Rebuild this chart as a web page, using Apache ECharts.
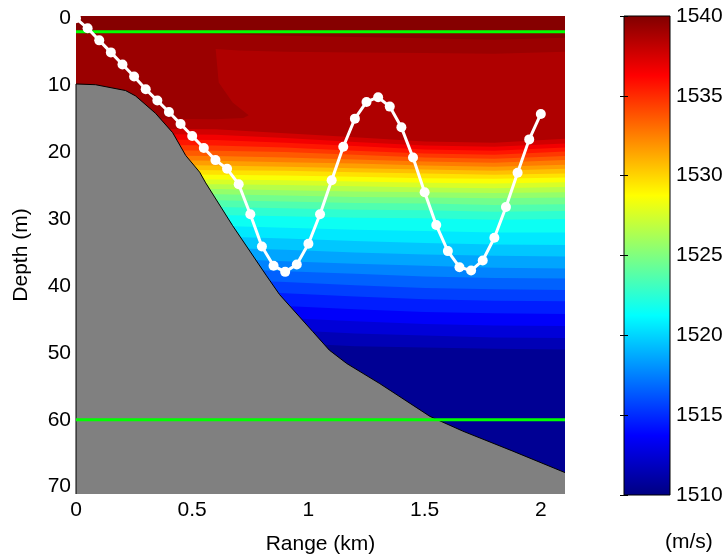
<!DOCTYPE html>
<html><head><meta charset="utf-8">
<script src="https://cdn.jsdelivr.net/npm/echarts@6/dist/echarts.min.js"></script>
<style>html,body{margin:0;padding:0;background:#fff}#c{width:727px;height:560px}</style>
</head><body><div id="c"></div>
<script>
// ---- axis extents & ticks ----
const X_MIN = 0, X_MAX = 2.104, Y_MIN = -0.34, Y_MAX = 71.1;
const xTicks = [0, 0.5, 1, 1.5, 2];
const yTicks = [0, 10, 20, 30, 40, 50, 60, 70];
const cbTicks = [1510, 1515, 1520, 1525, 1530, 1535, 1540];
const cbRange = [1510, 1540];
const greenLineDepths = [2, 60];

// ---- seabed ----
const bathyRange = [0, 0.084, 0.213, 0.256, 0.342, 0.416, 0.472, 0.532, 0.558, 0.674, 0.82, 0.876, 1.018, 1.09, 1.165, 1.307, 1.523, 1.664, 1.88, 2.104];
const bathyDepth = [9.82, 9.93, 10.8, 11.6, 14.2, 17.1, 20.5, 23.0, 24.6, 31.0, 38.5, 41.3, 46.8, 49.6, 51.6, 54.6, 59.5, 61.7, 64.7, 67.9];

// ---- glider path ----
const gliderRange = [0, 0.05, 0.1, 0.15, 0.2, 0.25, 0.3, 0.35, 0.4, 0.45, 0.5, 0.55, 0.6, 0.65, 0.7, 0.75, 0.8, 0.85, 0.9, 0.95, 1.0, 1.05, 1.1, 1.15, 1.2, 1.25, 1.3, 1.35, 1.4, 1.45, 1.5, 1.55, 1.6, 1.65, 1.7, 1.75, 1.8, 1.85, 1.9, 1.95, 2.0];
const gliderDepth = [0, 1.5, 3.3, 5.1, 6.9, 8.7, 10.6, 12.3, 14.0, 15.8, 17.6, 19.4, 21.2, 22.5, 24.8, 29.3, 34.1, 37.0, 37.9, 36.8, 33.7, 29.3, 24.2, 19.2, 15.0, 12.5, 11.8, 13.2, 16.3, 20.8, 26.0, 30.9, 34.8, 37.2, 37.7, 36.2, 32.8, 28.2, 23.1, 18.1, 14.3];

// ---- sound speed contour lines (m/s) : depth of each isoline at isoRanges ----
const topValue = 1539.8;
const iso1539Range = [0, 0.4, 0.6, 0.72, 0.743, 0.674, 0.614, 0.601, 0.7, 0.9, 1.2, 1.5, 1.8, 2.104];
const iso1539Depth = [15.0, 15.0, 15.1, 14.9, 14.5, 12.6, 9.6, 4.6, 4.8, 5.0, 5.1, 5.2, 5.3, 5.0];
const isoRanges = [0, 0.3, 0.6, 0.9, 1.2, 1.5, 1.8, 2.104];
const isoLevels = [1539.6, 1539, 1538, 1537, 1536, 1535, 1534, 1533, 1532, 1531, 1530, 1529, 1528, 1527, 1526, 1525, 1524, 1523, 1522, 1521, 1520, 1519, 1518, 1517, 1516, 1515, 1514, 1513, 1512, 1511];
const isoDepths = [
  [2.3, 2.3, 2.4, 2.6, 2.8, 3.0, 3.2, 2.9],
  null,
  [16.5, 16.5, 16.6, 17.2, 17.8, 18.4, 18.6, 18.0],
  [17.3, 17.3, 17.4, 17.9, 18.5, 19.0, 19.2, 18.7],
  [18.1, 18.1, 18.2, 18.6, 19.1, 19.6, 19.8, 19.3],
  [18.9, 18.9, 19.0, 19.3, 19.8, 20.2, 20.4, 19.9],
  [19.7, 19.7, 19.8, 20.0, 20.4, 20.8, 21.0, 20.6],
  [20.5, 20.5, 20.6, 20.8, 21.1, 21.4, 21.6, 21.2],
  [21.2, 21.2, 21.3, 21.5, 21.7, 22.0, 22.2, 21.9],
  [21.9, 21.9, 22.0, 22.2, 22.4, 22.6, 22.8, 22.5],
  [22.6, 22.6, 22.7, 22.8, 23.0, 23.2, 23.4, 23.2],
  [23.3, 23.3, 23.4, 23.5, 23.7, 23.9, 24.0, 23.8],
  [24.1, 24.1, 24.1, 24.2, 24.4, 24.6, 24.7, 24.5],
  [24.8, 24.8, 24.8, 24.9, 25.1, 25.3, 25.4, 25.2],
  [25.5, 25.5, 25.5, 25.7, 25.9, 26.0, 26.1, 26.0],
  [26.3, 26.3, 26.3, 26.5, 26.7, 26.8, 26.9, 26.8],
  [27.2, 27.2, 27.2, 27.4, 27.6, 27.7, 27.9, 27.8],
  [28.2, 28.2, 28.2, 28.4, 28.6, 28.7, 28.9, 28.8],
  [29.4, 29.4, 29.4, 29.6, 29.8, 29.9, 30.1, 30.0],
  [31.0, 31.0, 31.0, 31.3, 31.6, 31.8, 32.0, 32.0],
  [32.6, 32.6, 32.6, 32.9, 33.3, 33.6, 33.8, 33.9],
  [34.3, 34.3, 34.3, 34.6, 35.0, 35.3, 35.5, 35.6],
  [35.9, 35.9, 35.9, 36.3, 36.7, 37.0, 37.3, 37.4],
  [37.4, 37.4, 37.4, 37.8, 38.2, 38.6, 38.8, 38.9],
  [39.0, 39.0, 39.0, 39.4, 39.9, 40.3, 40.5, 40.6],
  [40.7, 40.7, 40.7, 41.1, 41.6, 42.0, 42.2, 42.3],
  [42.6, 42.6, 42.6, 43.0, 43.5, 43.9, 44.1, 44.2],
  [44.4, 44.4, 44.4, 44.8, 45.3, 45.7, 45.9, 46.0],
  [46.2, 46.2, 46.2, 46.6, 47.1, 47.4, 47.7, 47.8],
  [48.0, 48.0, 48.0, 48.5, 49.0, 49.2, 49.4, 49.5]
];

// ---- jet colormap (style) ----
function jet(v) {
  const t = Math.max(0, Math.min(1, (v - cbRange[0]) / (cbRange[1] - cbRange[0])));
  const c = x => Math.round(255 * Math.max(0, Math.min(1, x)));
  return 'rgb(' + c(1.5 - Math.abs(4 * t - 3)) + ',' + c(1.5 - Math.abs(4 * t - 2)) + ',' + c(1.5 - Math.abs(4 * t - 1)) + ')';
}
const BAND_OFFSET = 0.4;

const isoPaths = isoLevels.map((lv, i) => {
  if (isoDepths[i] === null) return iso1539Range.map((r, k) => [r, iso1539Depth[k]]);
  return isoRanges.map((r, k) => [r, isoDepths[i][k]]);
});

const FONT = 'Liberation Sans, Arial, Helvetica, sans-serif';
const FS = 21;

const chart = echarts.init(document.getElementById('c'), null, {renderer: 'canvas'});
chart.setOption({
  animation: false,
  backgroundColor: '#fff',
  textStyle: {fontFamily: FONT},
  grid: [
    {left: 76, top: 16, width: 489, height: 480},
    {left: 624, top: 16, width: 46, height: 479}
  ],
  xAxis: [
    {gridIndex: 0, type: 'value', min: X_MIN, max: X_MAX,
     axisLine: {show: false}, axisTick: {show: false}, splitLine: {show: false},
     axisLabel: {customValues: xTicks, color: '#000', fontSize: FS, fontFamily: FONT, margin: 6,
                 formatter: v => String(v)},
     name: 'Range (km)', nameLocation: 'middle', nameGap: 40,
     nameTextStyle: {color: '#000', fontSize: FS, fontFamily: FONT}},
    {gridIndex: 1, type: 'value', min: 0, max: 1, show: false}
  ],
  yAxis: [
    {gridIndex: 0, type: 'value', min: Y_MIN, max: Y_MAX, inverse: true,
     axisLine: {show: false}, axisTick: {show: false}, splitLine: {show: false},
     axisLabel: {customValues: yTicks, color: '#000', fontSize: FS, fontFamily: FONT, margin: 5,
                 formatter: v => String(v)},
     name: 'Depth (m)', nameLocation: 'middle', nameGap: 44, nameRotate: 90,
     nameTextStyle: {color: '#000', fontSize: FS, fontFamily: FONT}},
    {gridIndex: 1, type: 'value', min: cbRange[0], max: cbRange[1], interval: 5, position: 'right', z: 10,
     axisLine: {show: false}, splitLine: {show: false},
     axisTick: {show: true, inside: true, length: 4, lineStyle: {color: '#000'}},
     axisLabel: {customValues: cbTicks, color: '#000', fontSize: FS, fontFamily: FONT, margin: 6,
                 formatter: v => String(v)}},
    {gridIndex: 1, type: 'value', min: cbRange[0], max: cbRange[1], interval: 5, position: 'left', z: 10,
     axisLine: {show: false}, splitLine: {show: false},
     axisTick: {show: true, inside: true, length: 4, lineStyle: {color: '#000'}},
     axisLabel: {show: false}}
  ],
  graphic: [
    {type: 'text', left: 665, top: 532, style: {text: '(m/s)', fontSize: FS, fontFamily: FONT, fill: '#000'}}
  ],
  series: [
    // top band background
    {type: 'custom', xAxisIndex: 0, yAxisIndex: 0, silent: true, z: 1, data: [[0, 0]],
     renderItem: (p, api) => {
       const a = api.coord([X_MIN, Y_MIN]), b = api.coord([X_MAX, Y_MAX]);
       return {type: 'rect', shape: {x: a[0], y: a[1], width: b[0] - a[0], height: b[1] - a[1]},
               style: {fill: jet(topValue)}};
     }},
    // filled contour bands
    {type: 'custom', xAxisIndex: 0, yAxisIndex: 0, silent: true, z: 2,
     data: isoLevels.map(() => [0, 0]),
     renderItem: (p, api) => {
       const i = p.dataIndex;
       const pts = isoPaths[i].map(q => api.coord(q));
       pts.push(api.coord([X_MAX, Y_MAX]));
       pts.push(api.coord([X_MIN, Y_MAX]));
       return {type: 'polygon', shape: {points: pts}, style: {fill: jet(isoLevels[i] - BAND_OFFSET)}};
     }},
    // seabed
    {type: 'custom', xAxisIndex: 0, yAxisIndex: 0, silent: true, z: 3, data: [[0, 0]],
     renderItem: (p, api) => {
       const line = bathyRange.map((r, k) => api.coord([r, bathyDepth[k]]));
       const poly = line.concat([api.coord([X_MAX, Y_MAX]), api.coord([X_MIN, Y_MAX])]);
       const edge = [api.coord([X_MIN, Y_MAX])].concat(line);
       return {type: 'group', children: [
         {type: 'polygon', shape: {points: poly}, style: {fill: '#808080'}},
         {type: 'polyline', shape: {points: edge}, style: {stroke: '#000', lineWidth: 1, fill: null}}
       ]};
     }},
    // green reference lines
    ...greenLineDepths.map(d => ({
      type: 'line', xAxisIndex: 0, yAxisIndex: 0, z: 4, silent: true, symbol: 'none',
      data: [[X_MIN, d], [X_MAX, d]], lineStyle: {color: '#00ff00', width: 3}
    })),
    // glider path
    {type: 'line', xAxisIndex: 0, yAxisIndex: 0, z: 5, silent: true, clip: true,
     data: gliderRange.map((r, k) => [r, gliderDepth[k]]),
     symbol: 'circle', symbolSize: 10, showAllSymbol: true,
     lineStyle: {color: '#fff', width: 3}, itemStyle: {color: '#fff', borderWidth: 0}},
    // colorbar
    {type: 'custom', xAxisIndex: 1, yAxisIndex: 1, silent: true, z: 2, data: [[0, cbRange[0]]],
     renderItem: (p, api) => {
       const a = api.coord([0, cbRange[1]]), b = api.coord([1, cbRange[0]]);
       const stops = [1, 7 / 8, 5 / 8, 3 / 8, 1 / 8, 0].map(t => ({offset: 1 - t, color: jet(cbRange[0] + t * (cbRange[1] - cbRange[0]))}));
       return {type: 'rect', shape: {x: a[0], y: a[1], width: b[0] - a[0], height: b[1] - a[1]},
               style: {fill: new echarts.graphic.LinearGradient(0, 0, 0, 1, stops), stroke: '#000', lineWidth: 1}};
     }}
  ]
});
</script>
</body></html>
